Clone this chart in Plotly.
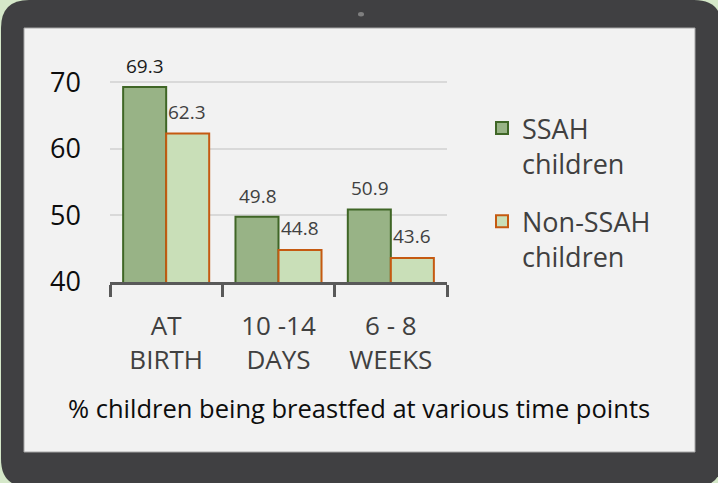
import plotly.graph_objects as go

categories = ["AT<br>BIRTH", "10 -14<br>DAYS", "6 - 8<br>WEEKS"]
ssah_values = [69.3, 49.8, 50.9]
non_ssah_values = [62.3, 44.8, 43.6]
series_names = ["SSAH<br>children", "Non-SSAH<br>children"]
y_ticks = [40, 50, 60, 70]
title_text = "% children being breastfed at various time points"

W, H = 718, 483
L, R, T, B = 110, 447, 79, 282  # plot area in pixels
PW, PH = R - L, B - T
FONT = "Open Sans"

fig = go.Figure()
fig.add_trace(go.Bar(
    x=categories, y=ssah_values, name=series_names[0], legendgroup="a",
    marker=dict(color="#98b386", line=dict(color="#3f6626", width=2)),
))
fig.add_trace(go.Bar(
    x=categories, y=non_ssah_values, name=series_names[1], legendgroup="b",
    marker=dict(color="#c9dfb8", line=dict(color="#c55a11", width=2)),
))


def px(xp):
    return (xp - L) / PW


def py(yp):
    return (B - yp) / PH


annotations = []
for i, (cat, v) in enumerate(zip(categories, ssah_values)):
    annotations.append(dict(x=cat, y=v, xref="x", yref="y", text=f"{v:.1f}", showarrow=False,
                            xshift=-21, yshift=21,
                            font=dict(family=FONT, size=19, color="#1a1a1a" if i == 0 else "#404040")))
for cat, v in zip(categories, non_ssah_values):
    annotations.append(dict(x=cat, y=v, xref="x", yref="y", text=f"{v:.1f}", showarrow=False,
                            xshift=21, yshift=22,
                            font=dict(family=FONT, size=19, color="#404040")))
annotations.append(dict(x=px(359), y=py(408), xref="paper", yref="paper", text=title_text,
                        showarrow=False, xanchor="center", yanchor="middle",
                        font=dict(family=FONT, size=25.5, color="#0d0d0d")))


def rounded(x0, y0, x1, y1, r):
    rx, ry = r / PW, r / PH
    X0, X1 = px(x0), px(x1)
    Y0, Y1 = py(y0), py(y1)
    return (f"M{X0 + rx},{Y0} L{X1 - rx},{Y0} Q{X1},{Y0} {X1},{Y0 - ry} "
            f"L{X1},{Y1 + ry} Q{X1},{Y1} {X1 - rx},{Y1} L{X0 + rx},{Y1} "
            f"Q{X0},{Y1} {X0},{Y1 + ry} L{X0},{Y0 - ry} Q{X0},{Y0} {X0 + rx},{Y0} Z")


shapes = [
    dict(type="path", xref="paper", yref="paper", path=rounded(1, 0, 722, 487, 28),
         fillcolor="#404042", line=dict(width=0), layer="below"),
    dict(type="rect", xref="paper", yref="paper", x0=px(24), x1=px(695), y0=py(452), y1=py(28),
         fillcolor="#f2f2f2", line=dict(color="#a6a6a6", width=1), layer="below"),
    dict(type="circle", xref="paper", yref="paper", x0=px(358), x1=px(364), y0=py(16.5), y1=py(12),
         fillcolor="#7f7f7f", line=dict(width=0), layer="below"),
]

fig.update_layout(
    width=W, height=H,
    paper_bgcolor="#d5e8c9", plot_bgcolor="rgba(0,0,0,0)",
    margin=dict(l=L, r=W - R, t=T, b=H - B),
    barmode="group", bargap=0.234, bargroupgap=0,
    showlegend=True,
    legend=dict(x=px(482), y=py(104), xanchor="left", yanchor="top",
                font=dict(family=FONT, size=27, color="#404040"),
                bgcolor="rgba(0,0,0,0)", valign="top", tracegroupgap=20,
                itemsizing="constant"),
    font=dict(family=FONT),
    annotations=annotations,
    shapes=shapes,
)
fig.update_yaxes(range=[40, 70.5], tickvals=y_ticks, showgrid=True, gridcolor="#d9d9d9", gridwidth=1.5,
                 zeroline=False, showline=False, ticks="",
                 tickfont=dict(family=FONT, size=27, color="#0d0d0d"), ticklabelstandoff=28)
fig.update_xaxes(showline=True, linecolor="#595959", linewidth=3, ticks="outside", tickson="boundaries",
                 ticklen=12, tickwidth=3, tickcolor="#595959",
                 tickfont=dict(family=FONT, size=26, color="#404040"), ticklabelstandoff=19)

fig.write_html("out.html", config={"displayModeBar": False},
               post_script="document.body.style.margin='0';")
